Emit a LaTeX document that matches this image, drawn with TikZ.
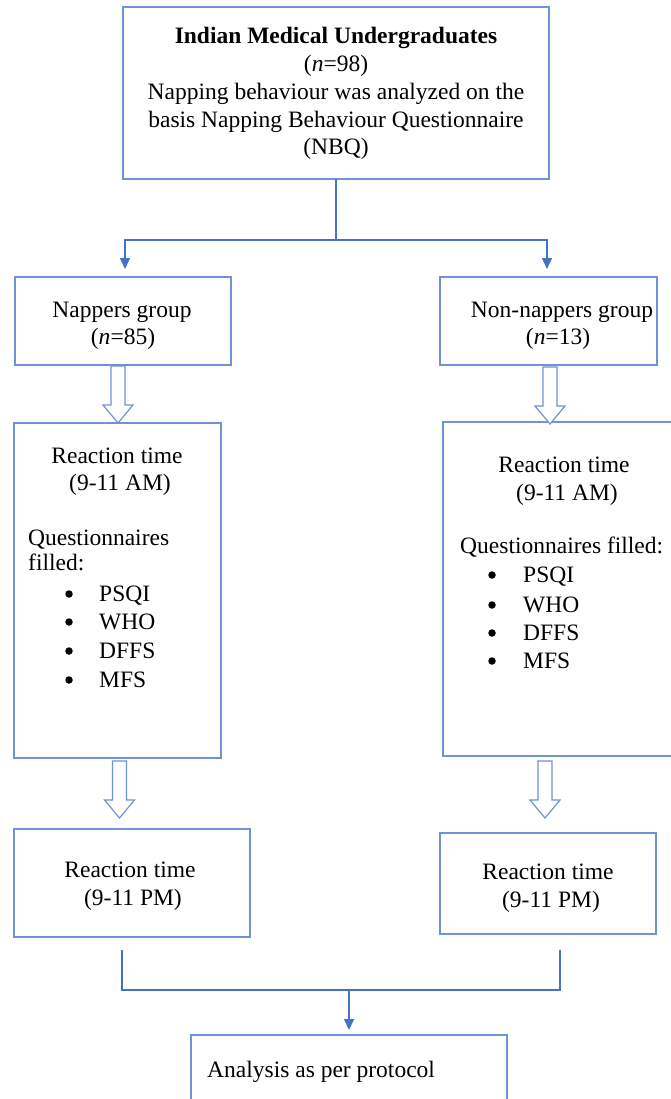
\documentclass[tikz,border=0pt]{standalone}
\usepackage{fontspec}
\setmainfont{Liberation Serif}
\usetikzlibrary{arrows.meta}
\definecolor{boxc}{HTML}{6F93D6}
\definecolor{linec}{HTML}{4472C4}
\begin{document}
\begin{tikzpicture}[x=1pt,y=-1pt,
  box/.style={draw=boxc, line width=1.3pt, rectangle, anchor=north west, inner sep=0pt, outer sep=0pt},
  txt/.style={anchor=base, inner sep=0pt, font=\fontsize{23.5}{28}\selectfont},
  txtl/.style={txt, anchor=base west},
  bul/.style={circle, fill=black, draw=none, inner sep=0pt, minimum size=7.5pt},
  conn/.style={draw=linec, line width=1.4pt},
  arr/.style={conn, -{Triangle[width=10pt,length=11pt]}},
  harrow/.style={draw=boxc, line width=1.2pt, fill=white, line join=miter},
  hollow/.pic={\draw[harrow] (-7,0) -- (-7,39) -- (-15,39) -- (0,57) -- (15,39) -- (7,39) -- (7,0) -- cycle;}
]
\fill[white] (0,0) rectangle (671,1099);
\useasboundingbox (0,0) rectangle (671,1099);

% boxes
\node[box, minimum width=426pt, minimum height=172pt] (top) at (123,7) {};
\node[box, minimum width=216pt, minimum height=88pt] (nap) at (15,277) {};
\node[box, minimum width=217pt, minimum height=88pt] (non) at (440,277) {};
\node[box, minimum width=207pt, minimum height=335pt] (lbig) at (14,423) {};
\node[box, minimum width=240pt, minimum height=334pt] (rbig) at (443,422) {};
\node[box, minimum width=236pt, minimum height=108pt] (lpm) at (14,829) {};
\node[box, minimum width=216pt, minimum height=101pt] (rpm) at (440,833) {};
\node[box, minimum width=316pt, minimum height=100pt] (final) at (191,1035) {};

% top box text
\node[txt] (t1) at (336,44) {\textbf{Indian Medical Undergraduates}};
\node[txt] (t2) at (336,72) {(\textit{n}=98)};
\node[txt] (t3) at (336,100) {Napping behaviour was analyzed on the};
\node[txt] (t4) at (336,128) {basis Napping Behaviour Questionnaire};
\node[txt] (t5) at (336,155) {(NBQ)};

% group boxes
\node[txt] (n1) at (122,317) {Nappers group};
\node[txt] (n2) at (123,344) {(\textit{n}=85)};
\node[txt] (m1) at (562,317) {Non-nappers group};
\node[txt] (m2) at (558,344) {(\textit{n}=13)};

% left big box
\node[txt] (l1) at (117,463) {Reaction time};
\node[txt] (l2) at (120,490) {(9-11 AM)};
\node[txtl] (l3) at (28,545) {Questionnaires};
\node[txtl] (l4) at (28,570) {filled:};
\node[bul] (lb1) at (69,594) {};
\node[bul] (lb2) at (69,622) {};
\node[bul] (lb3) at (69,651) {};
\node[bul] (lb4) at (69,680) {};
\node[txtl] (li1) at (99,601) {PSQI};
\node[txtl] (li2) at (99,629) {WHO};
\node[txtl] (li3) at (99,658) {DFFS};
\node[txtl] (li4) at (99,687) {MFS};

% right big box
\node[txt] (r1) at (564,472) {Reaction time};
\node[txt] (r2) at (567,500) {(9-11 AM)};
\node[txtl] (r3) at (460,553) {Questionnaires filled:};
\node[bul] (rb1) at (492,575) {};
\node[bul] (rb2) at (492,605) {};
\node[bul] (rb3) at (492,633) {};
\node[bul] (rb4) at (492,661) {};
\node[txtl] (ri1) at (523,582) {PSQI};
\node[txtl] (ri2) at (523,612) {WHO};
\node[txtl] (ri3) at (523,640) {DFFS};
\node[txtl] (ri4) at (523,668) {MFS};

% PM boxes
\node[txt] (p1) at (130,877) {Reaction time};
\node[txt] (p2) at (133,905) {(9-11 PM)};
\node[txt] (q1) at (548,879) {Reaction time};
\node[txt] (q2) at (551,907) {(9-11 PM)};

% final
\node[txtl] (f1) at (207,1077) {Analysis as per protocol};

% connectors top
\coordinate (split) at (top.south |- 0,240);
\draw[conn] (top.south) -- (split);
\draw[arr, shorten >=8pt] (split) -| ([xshift=2pt]nap.north);
\draw[arr, shorten >=8pt] (split) -| ([xshift=-1.5pt]non.north);

% hollow arrows
\pic at (118,366) {hollow};
\pic at (550,367) {hollow};
\pic at (119.5,761) {hollow};
\pic at (545,761) {hollow};

% bottom join
\coordinate (jl) at (122,950);
\coordinate (jr) at (560,950);
\coordinate (jm) at (final.north |- 0,990);
\draw[conn] (jl) |- (jm) -| (jr);
\draw[arr, shorten >=5pt] (jm) -- (final.north);
\end{tikzpicture}
\end{document}
